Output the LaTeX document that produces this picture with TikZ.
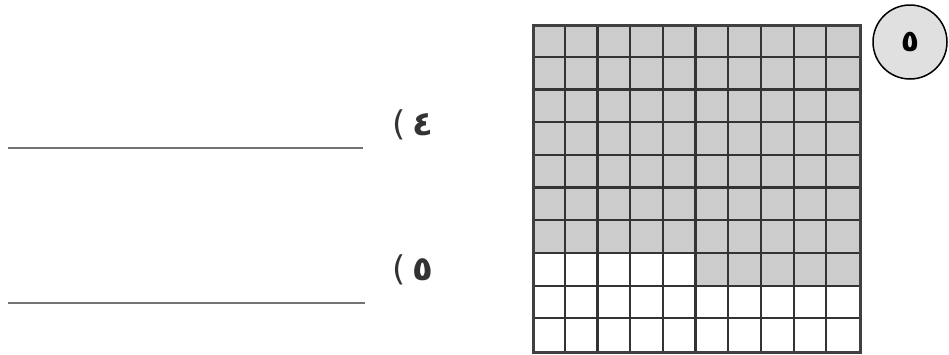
\documentclass[tikz,border=0pt]{standalone}
\usepackage{fontspec}
\newfontfamily\arabicfont[Script=Arabic]{DejaVu Sans}
\newfontfamily\plainfont{DejaVu Sans}
\tikzset{
  blankline/.style={draw=black!55, line width=2pt},
  gridline/.style={draw=black!80, line width=2.2pt},
  cellfill/.style={fill=black!20},
  label/.style={font=\fontsize{34}{34}\selectfont, text=black!80, inner sep=0pt},
  badge/.style={circle, draw=black, line width=1.5pt, fill=black!12, minimum size=74pt, inner sep=0pt, font=\arabicfont\bfseries\fontsize{30}{30}\selectfont}
}
\begin{document}
\begin{tikzpicture}[x=1pt,y=-1pt]
\useasboundingbox (0,0) rectangle (949,354);
% answer lines
\coordinate (l1a) at (8,148); \coordinate (l1b) at (363,148);
\coordinate (l2a) at (8,303); \coordinate (l2b) at (365,303);
\draw[blankline] (l1a) -- (l1b);
\draw[blankline] (l2a) -- (l2b);
% labels
\node[label] (q4) at (413,125) {{\plainfont (}\hspace{6pt}{\arabicfont\bfseries ٤}};
\node[label] (q5) at (413,270) {{\plainfont (}\hspace{6pt}{\arabicfont\bfseries ٥}};
% grid
\def\gx{532}\def\gy{24}\def\gc{32.7}
\fill[cellfill] (\gx,\gy) rectangle ({\gx+10*\gc},{\gy+7*\gc});
\fill[cellfill] ({\gx+5*\gc},{\gy+7*\gc}) rectangle ({\gx+10*\gc},{\gy+8*\gc});
\foreach \i in {1,...,9} {
  \draw[gridline] ({\gx+\i*\gc},\gy) -- ({\gx+\i*\gc},{\gy+10*\gc});
  \draw[gridline] (\gx,{\gy+\i*\gc}) -- ({\gx+10*\gc},{\gy+\i*\gc});
}
\node[draw=black!75, line width=3pt, minimum width=327pt, minimum height=327pt, inner sep=0pt, anchor=north west] (grid) at (\gx,\gy) {};
% badge
\node[badge] (b) at (910,42) {٥};
\end{tikzpicture}
\end{document}
